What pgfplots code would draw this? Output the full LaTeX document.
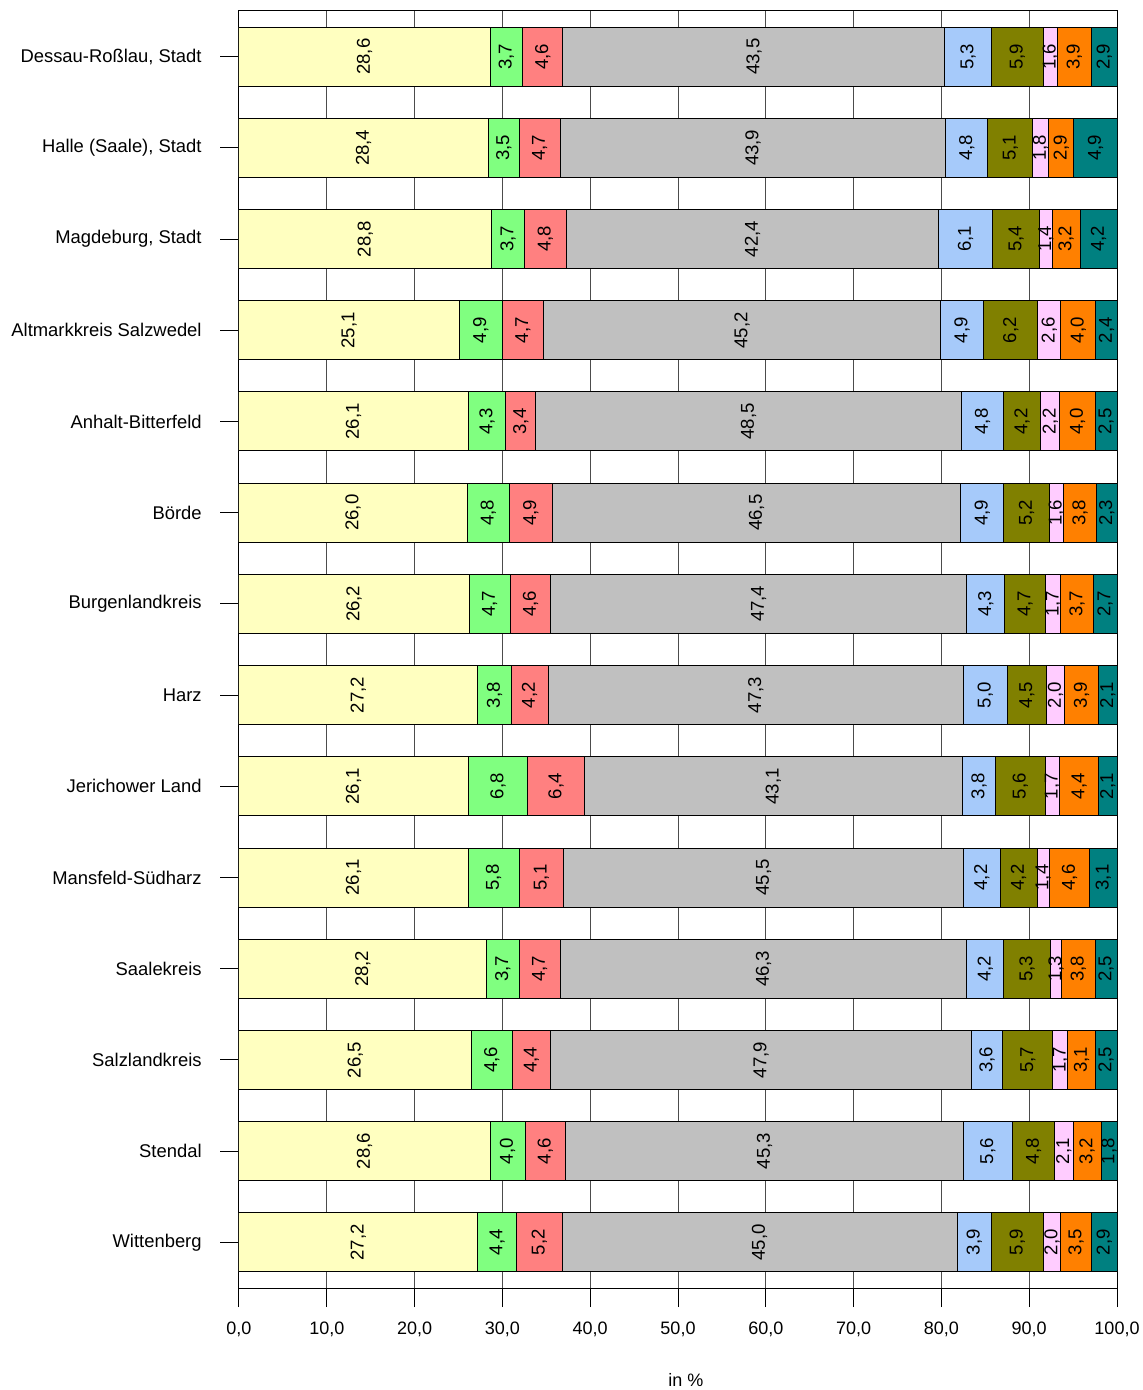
\documentclass[border=0pt]{standalone}
\usepackage{fontspec}
\setmainfont{Liberation Sans}
\usepackage{pgfplots}
\usepackage{pgfplotstable}
\pgfplotsset{compat=1.18}
\definecolor{c1}{RGB}{255,255,192}
\definecolor{c2}{RGB}{128,255,128}
\definecolor{c3}{RGB}{255,128,128}
\definecolor{c4}{RGB}{192,192,192}
\definecolor{c5}{RGB}{166,202,250}
\definecolor{c6}{RGB}{128,128,0}
\definecolor{c7}{RGB}{255,204,255}
\definecolor{c8}{RGB}{255,128,0}
\definecolor{c9}{RGB}{0,128,128}
\pgfplotstableread{
y v1 v2 v3 v4 v5 v6 v7 v8 v9
0 28.6 3.7 4.6 43.5 5.3 5.9 1.6 3.9 2.9
1 28.4 3.5 4.7 43.9 4.8 5.1 1.8 2.9 4.9
2 28.8 3.7 4.8 42.4 6.1 5.4 1.4 3.2 4.2
3 25.1 4.9 4.7 45.2 4.9 6.2 2.6 4.0 2.4
4 26.1 4.3 3.4 48.5 4.8 4.2 2.2 4.0 2.5
5 26.0 4.8 4.9 46.5 4.9 5.2 1.6 3.8 2.3
6 26.2 4.7 4.6 47.4 4.3 4.7 1.7 3.7 2.7
7 27.2 3.8 4.2 47.3 5.0 4.5 2.0 3.9 2.1
8 26.1 6.8 6.4 43.1 3.8 5.6 1.7 4.4 2.1
9 26.1 5.8 5.1 45.5 4.2 4.2 1.4 4.6 3.1
10 28.2 3.7 4.7 46.3 4.2 5.3 1.3 3.8 2.5
11 26.5 4.6 4.4 47.9 3.6 5.7 1.7 3.1 2.5
12 28.6 4.0 4.6 45.3 5.6 4.8 2.1 3.2 1.8
13 27.2 4.4 5.2 45.0 3.9 5.9 2.0 3.5 2.9
}\data
\begin{document}
\begin{tikzpicture}
\begin{axis}[
  scale only axis, width=439pt, height=638.5pt,
  xbar stacked, bar width=29.5pt,
  xmin=0, xmax=100, ymin=-0.5, ymax=13.5, y dir=reverse,
  xtick={0,10,...,100}, ytick={0,...,13},
  yticklabels={{Dessau-Roßlau, Stadt},{Halle (Saale), Stadt},{Magdeburg, Stadt},{Altmarkkreis Salzwedel},{Anhalt-Bitterfeld},{Börde},{Burgenlandkreis},{Harz},{Jerichower Land},{Mansfeld-Südharz},{Saalekreis},{Salzlandkreis},{Stendal},{Wittenberg}},
  tick align=outside, xtick pos=bottom, ytick pos=left,
  major tick length=9.5pt,
  xmajorgrids, grid style={black!70, line width=0.5pt},
  axis line style={line width=0.5pt},
  tick style={black, line width=0.5pt},
  /pgf/number format/assume math mode=true,
  xticklabel style={/pgf/number format/.cd, fixed, fixed zerofill, precision=1, use comma, /tikz/.cd, font=\fontsize{9}{10}\selectfont, anchor=north, inner sep=0pt, yshift=-7.5pt},
  yticklabel style={font=\fontsize{9.2}{11}\selectfont, anchor=east, inner sep=0pt, xshift=-9pt},
  xlabel={in \%},
  xlabel style={at={(rel axis cs:0.5,0)}, anchor=base, yshift=-49pt, xshift=4pt, font=\fontsize{9}{11}\selectfont, inner sep=0pt},
  nodes near coords,
  point meta=explicit,
  nodes near coords style={/pgf/number format/.cd, fixed, fixed zerofill, precision=1, use comma, assume math mode=true, /tikz/.cd},
]
\pgfplotsinvokeforeach{1,...,9}{
\addplot[fill=c#1, draw=black, line width=0.5pt,
  every node near coord/.append style={rotate=90, anchor=center, inner sep=0pt, font=\fontsize{9.3}{10}\selectfont, text=black}]
  table[x=v#1, y=y, meta=v#1] {\data};
}
\end{axis}
\pgfresetboundingbox
\path[use as bounding box] ([shift={(-119.5pt,-51pt)}]current axis.south west) rectangle ([shift={(13pt,5.5pt)}]current axis.north east);
\end{tikzpicture}
\end{document}
